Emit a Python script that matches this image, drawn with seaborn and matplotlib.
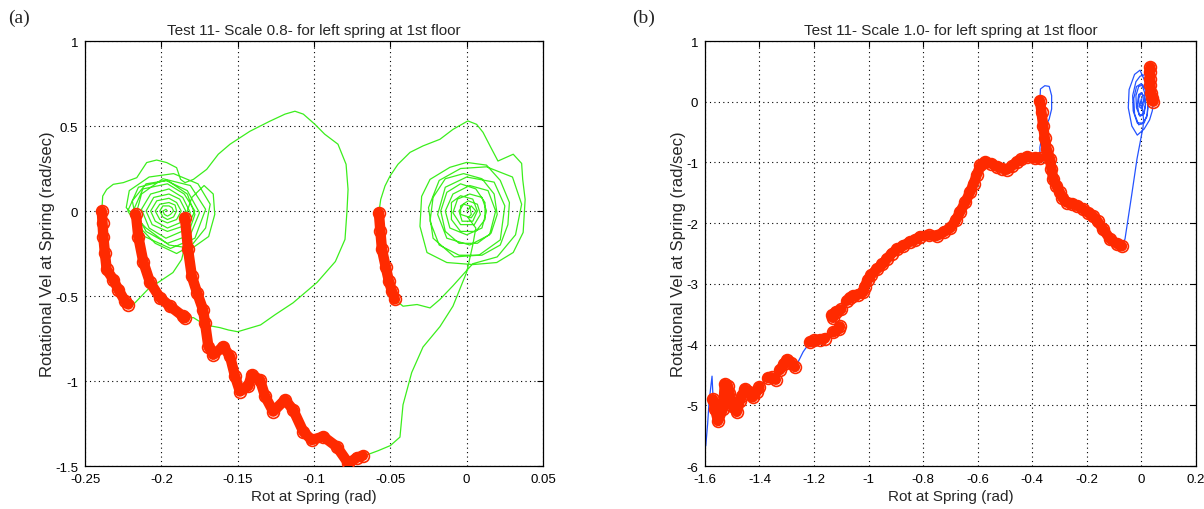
import numpy as np
import matplotlib
matplotlib.use("Agg")
import matplotlib.pyplot as plt
from matplotlib.ticker import FuncFormatter
import seaborn as sns

# ---------------- (a) Test 11, scale 0.8 ----------------
# free vibration about the initial position, then excursion to the first yield
a1_x = [0.0, 0.003, 0.006, 0.003, -0.004, -0.004, 0.001, 0.007, 0.009, 0.005, -0.004, -0.009, -0.006,
        0.002, 0.010, 0.013, 0.010, 0.000, -0.011, -0.014, -0.009, 0.002, 0.014, 0.019, 0.015, 0.002,
        -0.013, -0.019, -0.014, 0.000, 0.018, 0.025, 0.022, 0.008, -0.008, -0.022, -0.025, -0.018,
        -0.004, 0.013, 0.030, 0.036, 0.032, 0.020, 0.004, -0.009, -0.0175, -0.024, -0.0325, -0.0417, -0.047]
a1_y = [0.0, 0.03, 0.0, -0.04, -0.02, 0.03, 0.06, 0.04, -0.02, -0.08, -0.08, -0.01, 0.07,
        0.10, 0.08, 0.0, -0.10, -0.14, -0.10, 0.0, 0.10, 0.15, 0.12, 0.0, -0.14, -0.20,
        -0.16, -0.02, 0.14, 0.20, 0.17, 0.03, -0.17, -0.26, -0.27, -0.16, 0.02, 0.18,
        0.25, 0.26, 0.20, 0.04, -0.14, -0.27, -0.31, -0.44, -0.52, -0.57, -0.55, -0.56, -0.52]
# yield branch D
a2_x = [-0.047, -0.049, -0.051, -0.053, -0.0555, -0.0565, -0.0575]
a2_y = [-0.52, -0.47, -0.41, -0.33, -0.226, -0.12, -0.01]
# rebound, decaying loops, then the strong pulse
a3_x = [-0.0563, -0.0535, -0.0502, -0.045, -0.0371, -0.0286, -0.0175, -0.009, 0.0008, 0.0065, 0.0107,
        0.0153, 0.0205, 0.0305, 0.036, 0.0367, 0.0383, 0.037, 0.0305, 0.0197, 0.0041, -0.013, -0.026,
        -0.0306, -0.0295, -0.024, -0.011, 0.0, 0.013, 0.022, 0.028, 0.027, 0.022, 0.010, -0.005, -0.018,
        -0.024, -0.022, -0.014, -0.002, 0.010, 0.018, 0.020, 0.016, 0.007, -0.005, -0.014, -0.017,
        -0.013, -0.004, 0.006, 0.012, 0.012, 0.006, -0.004, -0.010, -0.010, -0.004, 0.004, 0.007,
        0.004, -0.003, -0.005, -0.002, 0.002, 0.003, 0.001, 0.006, 0.004, 0.0, -0.009, -0.0175,
        -0.0286, -0.036, -0.0417, -0.0437, -0.050, -0.058, -0.064]
a3_y = [0.068, 0.147, 0.206, 0.275, 0.345, 0.383, 0.422, 0.48, 0.53, 0.51, 0.463,
        0.383, 0.294, 0.334, 0.28, 0.186, 0.068, -0.126, -0.244, -0.303, -0.315, -0.303, -0.244,
        -0.09, 0.086, 0.186, 0.257, 0.286, 0.27, 0.18, 0.05, -0.08, -0.20, -0.26, -0.26, -0.20,
        -0.06, 0.08, 0.19, 0.22, 0.19, 0.10, -0.02, -0.13, -0.19, -0.19, -0.12, 0.0,
        0.11, 0.16, 0.13, 0.05, -0.05, -0.12, -0.12, -0.05, 0.05, 0.09, 0.07, 0.0,
        -0.06, -0.06, 0.0, 0.04, 0.03, -0.02, -0.04, -0.10, -0.20, -0.36, -0.56, -0.68,
        -0.80, -0.95, -1.14, -1.33, -1.38, -1.41, -1.43]
# yield branch C
a4_x = [-0.068, -0.0718, -0.0775, -0.0851, -0.0939, -0.1015, -0.107, -0.1136, -0.119, -0.1267, -0.132,
        -0.1354, -0.1408, -0.143, -0.1485, -0.1517, -0.155, -0.1594, -0.166, -0.1692, -0.1714,
        -0.1727, -0.1766, -0.18, -0.1825, -0.1845]
a4_y = [-1.44, -1.45, -1.484, -1.386, -1.327, -1.347, -1.298, -1.17, -1.11, -1.18, -1.09,
        -0.993, -0.963, -1.03, -1.062, -0.973, -0.855, -0.797, -0.846, -0.797, -0.657,
        -0.58, -0.48, -0.385, -0.226, -0.04]
a5_x = [-0.180, -0.172, -0.166, -0.165, -0.169, -0.180, -0.195, -0.210, -0.223, -0.221, -0.208,
        -0.192, -0.176, -0.168, -0.171, -0.180, -0.190, -0.204, -0.216, -0.219, -0.210, -0.196,
        -0.183, -0.178, -0.183, -0.1867, -0.1924, -0.2009, -0.2087, -0.2194]
a5_y = [0.08, 0.15, 0.10, -0.02, -0.15, -0.22, -0.20, -0.10, 0.02, 0.12, 0.20,
        0.22, 0.16, 0.04, -0.10, -0.20, -0.25, -0.19, -0.08, 0.06, 0.16, 0.18,
        0.10, -0.02, -0.15, -0.285, -0.362, -0.413, -0.46, -0.56]
# yield branch A
a6_x = [-0.2216, -0.2238, -0.2282, -0.2315, -0.2358, -0.237, -0.238, -0.2385, -0.239]
a6_y = [-0.55, -0.53, -0.462, -0.403, -0.344, -0.245, -0.15, -0.07, 0.0]
# large loop
a7_x = [-0.2384, -0.2358, -0.2315, -0.2249, -0.2161, -0.2096, -0.2031, -0.1965, -0.190, -0.1874,
        -0.1845, -0.179, -0.1703, -0.1627, -0.155, -0.142, -0.129, -0.119, -0.1125, -0.107,
        -0.0994, -0.093, -0.0843, -0.079, -0.0777, -0.0784, -0.0797, -0.086, -0.098, -0.1137,
        -0.1255, -0.135, -0.150, -0.156, -0.1616, -0.1714, -0.179]
a7_y = [0.088, 0.127, 0.157, 0.167, 0.196, 0.285, 0.30, 0.285, 0.255, 0.186,
        0.167, 0.186, 0.245, 0.334, 0.393, 0.469, 0.528, 0.57, 0.587, 0.57,
        0.51, 0.452, 0.393, 0.275, 0.127, 0.0, -0.167, -0.297, -0.42, -0.54,
        -0.61, -0.67, -0.71, -0.70, -0.686, -0.67, -0.627]
# yield branch B
a8_x = [-0.1845, -0.1856, -0.1943, -0.2009, -0.2074, -0.2118, -0.2151, -0.2166]
a8_y = [-0.63, -0.62, -0.56, -0.51, -0.42, -0.30, -0.15, -0.02]
# residual vibration about the permanent rotation
a9_x = [-0.213, -0.199, -0.181, -0.171, -0.178, -0.194, -0.211, -0.222, -0.215,
        -0.197, -0.183, -0.175, -0.181, -0.196, -0.210, -0.218, -0.212,
        -0.196, -0.185, -0.178, -0.184, -0.197, -0.208, -0.213, -0.207,
        -0.195, -0.186, -0.181, -0.186, -0.196, -0.206, -0.210, -0.205,
        -0.195, -0.188, -0.184, -0.188, -0.196, -0.204, -0.207, -0.203,
        -0.195, -0.190, -0.187, -0.190, -0.196, -0.201, -0.204, -0.201,
        -0.195, -0.191, -0.190, -0.192, -0.196, -0.199, -0.201, -0.199,
        -0.195, -0.193, -0.192, -0.194, -0.196, -0.198, -0.199, -0.197, -0.196]
a9_y = [0.10, 0.19, 0.15, 0.01, -0.16, -0.22, -0.15, 0.0, 0.14,
        0.18, 0.12, -0.01, -0.14, -0.19, -0.12, 0.01, 0.13,
        0.16, 0.10, 0.0, -0.11, -0.16, -0.10, 0.01, 0.10,
        0.13, 0.08, -0.01, -0.09, -0.12, -0.08, 0.0, 0.08,
        0.10, 0.07, 0.0, -0.07, -0.10, -0.06, 0.0, 0.06,
        0.075, 0.05, 0.0, -0.05, -0.07, -0.05, 0.0, 0.04,
        0.05, 0.035, 0.0, -0.035, -0.05, -0.035, 0.0, 0.03,
        0.03, 0.02, 0.0, -0.02, -0.03, -0.02, 0.0, 0.01, 0.0]

# ---------------- (b) Test 11, scale 1.0 ----------------
b1_x = [0.0, 0.005, 0.002, -0.008, -0.010, -0.002, 0.010, 0.015, 0.010, -0.005, -0.018, -0.020, -0.010,
        0.005, 0.020, 0.025, 0.020, 0.005, -0.015, -0.030, -0.032, -0.020, -0.005, 0.015, 0.025, 0.033]
b1_y = [0.0, -0.05, -0.12, -0.08, 0.05, 0.14, 0.10, -0.05, -0.20, -0.24, -0.10, 0.10, 0.25,
        0.28, 0.15, -0.05, -0.25, -0.35, -0.35, -0.15, 0.10, 0.33, 0.42, 0.45, 0.53, 0.57]
b2_x = [0.033, 0.031, 0.032, 0.033, 0.036, 0.040, 0.044]
b2_y = [0.57, 0.49, 0.38, 0.27, 0.15, 0.06, 0.0]
b3_x = [0.040, 0.030, 0.010, -0.015, -0.035, -0.048, -0.045, -0.025, -0.005, 0.012, 0.025, 0.022,
        0.010, -0.010, -0.025, -0.028, -0.018, 0.0, 0.012, 0.015, 0.008, -0.008, -0.015, -0.010,
        0.002, 0.008, 0.004, -0.005, 0.0, 0.005, 0.008, 0.006, -0.016, -0.036, -0.048, -0.060]
b3_y = [-0.15, -0.30, -0.45, -0.55, -0.40, -0.10, 0.20, 0.45, 0.52, 0.35, 0.10, -0.20,
        -0.35, -0.38, -0.20, 0.05, 0.25, 0.30, 0.15, -0.05, -0.20, -0.22, -0.05, 0.12,
        0.15, 0.02, -0.10, -0.05, 0.05, -0.15, -0.30, -0.42, -0.94, -1.55, -1.90, -2.26]
b4_x = [-0.071, -0.090, -0.115, -0.140, -0.160, -0.178, -0.195, -0.214, -0.237, -0.255, -0.274,
        -0.290, -0.299, -0.312, -0.323, -0.330, -0.335, -0.347, -0.354, -0.360, -0.366, -0.372]
b4_y = [-2.38, -2.34, -2.26, -2.10, -1.97, -1.88, -1.83, -1.77, -1.71, -1.68, -1.66,
        -1.58, -1.49, -1.38, -1.27, -1.10, -0.94, -0.78, -0.60, -0.40, -0.175, 0.017]
b5_x = [-0.370, -0.354, -0.338, -0.329, -0.329, -0.338, -0.352, -0.365, -0.372, -0.372]
b5_y = [0.21, 0.264, 0.253, 0.10, -0.12, -0.285, -0.42, -0.58, -0.75, -0.93]
b6_x = [-0.372, -0.39, -0.42, -0.44, -0.456, -0.475, -0.493, -0.51, -0.53, -0.55, -0.573, -0.59,
        -0.603, -0.615, -0.628, -0.645, -0.665, -0.68, -0.70, -0.725, -0.75, -0.78, -0.812, -0.83,
        -0.85, -0.875, -0.896, -0.915, -0.933, -0.95, -0.97, -0.99, -1.002, -1.015, -1.02, -1.04,
        -1.057, -1.07, -1.08]
b6_y = [-0.93, -0.93, -0.91, -0.95, -0.99, -1.06, -1.12, -1.10, -1.07, -1.02, -0.99, -1.05,
        -1.20, -1.35, -1.49, -1.65, -1.82, -1.95, -2.08, -2.15, -2.21, -2.20, -2.22, -2.28,
        -2.31, -2.38, -2.43, -2.50, -2.59, -2.68, -2.76, -2.85, -2.93, -3.05, -3.14, -3.18,
        -3.20, -3.24, -3.28]
# final stage: short yield bursts separated by elastic segments
tail_b = [
    ("line", [-1.09], [-3.36]),
    ("mark", [-1.10, -1.12, -1.135, -1.13], [-3.42, -3.46, -3.52, -3.56]),
    ("line", [-1.12], [-3.64]),
    ("mark", [-1.105, -1.11, -1.13], [-3.70, -3.75, -3.80]),
    ("line", [-1.145], [-3.86]),
    ("mark", [-1.16, -1.18, -1.20, -1.215], [-3.90, -3.92, -3.93, -3.96]),
    ("line", [-1.24, -1.26], [-4.12, -4.30]),
    ("mark", [-1.27, -1.285, -1.30, -1.31, -1.325], [-4.37, -4.30, -4.25, -4.32, -4.42]),
    ("line", [-1.33], [-4.50]),
    ("mark", [-1.34, -1.355, -1.37], [-4.58, -4.54, -4.55]),
    ("line", [-1.385], [-4.62]),
    ("mark", [-1.40, -1.41, -1.425, -1.44, -1.453, -1.465, -1.472, -1.483, -1.50, -1.51, -1.516,
              -1.527, -1.534, -1.552, -1.563, -1.57],
             [-4.70, -4.78, -4.87, -4.78, -4.73, -4.85, -4.93, -5.11, -5.01, -4.80, -4.68,
              -4.65, -5.06, -5.26, -5.06, -4.90]),
    ("line", [-1.574, -1.585, -1.59, -1.597], [-4.52, -4.95, -5.30, -5.67]),
]

history_a = [("line", a1_x, a1_y), ("mark", a2_x, a2_y), ("line", a3_x, a3_y), ("mark", a4_x, a4_y),
             ("line", a5_x, a5_y), ("mark", a6_x, a6_y), ("line", a7_x, a7_y), ("mark", a8_x, a8_y),
             ("line", a9_x, a9_y)]
history_b = [("line", b1_x, b1_y), ("mark", b2_x, b2_y), ("line", b3_x, b3_y), ("mark", b4_x, b4_y),
             ("line", b5_x, b5_y), ("mark", b6_x, b6_y)] + tail_b

titles = ["Test 11- Scale 0.8- for left spring at 1st floor",
          "Test 11- Scale 1.0- for left spring at 1st floor"]
panel_tags = ["(a)", "(b)"]
x_ticks = [[-0.25, -0.2, -0.15, -0.1, -0.05, 0, 0.05],
           [-1.6, -1.4, -1.2, -1.0, -0.8, -0.6, -0.4, -0.2, 0, 0.2]]
y_ticks = [[1, 0.5, 0, -0.5, -1, -1.5],
           [1, 0, -1, -2, -3, -4, -5, -6]]
x_label = "Rot at Spring (rad)"
y_label = "Rotational Vel at Spring (rad/sec)"

sns.set_theme(style="white")
plt.rcParams["font.family"] = ["Liberation Sans", "DejaVu Sans"]
plt.rcParams["axes.unicode_minus"] = False

GREEN = "#3bee1c"
BLUE = "#2453ff"
RED = "#ff2a00"

fig = plt.figure(figsize=(12.04, 5.10), dpi=100)
ax_a = fig.add_axes([0.0706, 0.0843, 0.3804, 0.8333])
ax_b = fig.add_axes([0.5855, 0.0843, 0.4078, 0.8333])


def draw(ax, history, line_color):
    xs = np.concatenate([np.asarray(s[1], float) for s in history])
    ys = np.concatenate([np.asarray(s[2], float) for s in history])
    sns.lineplot(x=xs, y=ys, sort=False, estimator=None, color=line_color,
                 lw=0.9, ax=ax, zorder=2)
    for kind, sx, sy in history:
        if kind != "mark":
            continue
        sns.lineplot(x=sx, y=sy, sort=False, estimator=None, color=RED, lw=7.5,
                     solid_capstyle="round", solid_joinstyle="round",
                     marker="o", markersize=8.5, markerfacecolor="none",
                     markeredgecolor=RED, markeredgewidth=1.2, ax=ax, zorder=3)


draw(ax_a, history_a, GREEN)
draw(ax_b, history_b, BLUE)

fmt = FuncFormatter(lambda v, p: "%g" % round(v, 4))
for i, ax in enumerate([ax_a, ax_b]):
    ax.set_xlim(x_ticks[i][0], x_ticks[i][-1])
    ax.set_ylim(min(y_ticks[i]), max(y_ticks[i]))
    ax.set_xticks(x_ticks[i])
    ax.set_yticks(y_ticks[i])
    ax.xaxis.set_major_formatter(fmt)
    ax.yaxis.set_major_formatter(fmt)
    ax.grid(True, color="black", linestyle=(0, (1, 3)), linewidth=0.8)
    ax.set_axisbelow(True)
    for sp in ax.spines.values():
        sp.set_color("black")
        sp.set_linewidth(0.9)
    ax.tick_params(direction="in", length=4, width=0.8, top=True, right=True,
                   labelsize=9.5, colors="black")
    ax.tick_params(axis="x", pad=5)
    ax.tick_params(axis="y", pad=5)
    ax.set_title(titles[i], fontsize=11, pad=5)
    ax.set_xlabel(x_label, fontsize=11, labelpad=3)
    ax.set_ylabel(y_label, fontsize=12, labelpad=0)

fig.text(0.007, 0.965, panel_tags[0], fontsize=14, family="Liberation Serif", va="center")
fig.text(0.525, 0.965, panel_tags[1], fontsize=14, family="Liberation Serif", va="center")

fig.savefig("out.png", dpi=100, facecolor="white")
